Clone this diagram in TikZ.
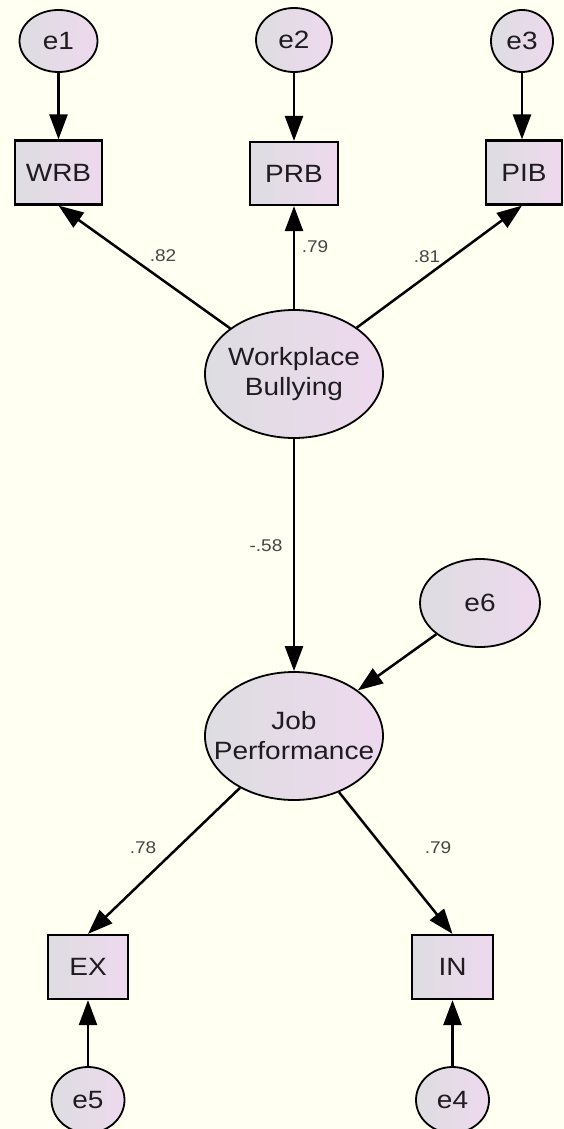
\documentclass[tikz,border=0pt]{standalone}
\usepackage{fontspec}
\setmainfont{Liberation Sans}[FakeStretch=1.12]
\usetikzlibrary{shapes.geometric,arrows.meta}
\definecolor{bgcol}{RGB}{255,255,242}
\definecolor{fillL}{RGB}{221,221,225}
\definecolor{fillR}{RGB}{238,217,238}
\definecolor{txt}{RGB}{30,28,32}
\definecolor{lbl}{RGB}{70,70,70}
\newcommand{\zw}[1]{\makebox[0pt]{#1}}
\tikzset{
  latent/.style={ellipse, draw=black, line width=1.8pt, left color=fillL, right color=fillR,
    inner sep=0pt, align=center, text=txt, font=\fontsize{25}{30}\selectfont},
  obsbox/.style={rectangle, draw=black, line width=2.2pt, left color=fillL, right color=fillR,
    inner sep=0pt, text=txt, font=\fontsize{25}{30}\selectfont},
  path/.style={line width=2.5pt, -{Triangle[length=25pt,width=18pt]}},
  coef/.style={text=lbl, font=\fontsize{17}{20}\selectfont, inner sep=0pt}
}
\begin{document}
\begin{tikzpicture}[x=1pt,y=-1pt]
\fill[bgcol] (0,0) rectangle (564,1129);
\useasboundingbox (0,0) rectangle (564,1129);
% error terms top
\node[latent, minimum width=78, minimum height=62] (e1) at (58.5,41) {e1};
\node[latent, minimum width=76, minimum height=64] (e2) at (294,40) {e2};
\node[latent, minimum width=62, minimum height=62] (e3) at (522,41) {e3};
% indicators top
\node[obsbox, minimum width=87, minimum height=64] (wrb) at (58.5,172.5) {WRB};
\node[obsbox, minimum width=88, minimum height=63] (prb) at (294,173.5) {PRB};
\node[obsbox, minimum width=76, minimum height=64] (pib) at (524,172.5) {PIB};
% latent factors
\node[latent, minimum width=178, minimum height=128] (wb) at (294,374) {\zw{Workplace}\\\zw{Bullying}};
\node[latent, minimum width=178, minimum height=128] (jp) at (294,736) {\zw{Job}\\\zw{Performance}};
\node[latent, minimum width=120, minimum height=88] (e6) at (480,603) {e6};
% indicators bottom
\node[obsbox, minimum width=80, minimum height=64] (ex) at (88,967) {EX};
\node[obsbox, minimum width=81, minimum height=64] (in) at (452.5,967) {IN};
\node[latent, minimum width=73, minimum height=66] (e5) at (88,1100) {e5};
\node[latent, minimum width=73, minimum height=66] (e4) at (452.5,1100) {e4};
% connectors
\draw[path] (e1) -- (wrb);
\draw[path] (e2) -- (prb);
\draw[path] (e3.south) -- (pib.north -| e3.south);
\draw[path] (wb) -- (wrb.south);
\draw[path] (wb) -- (prb.south);
\draw[path] (wb) -- (pib.south -| e3.south);
\draw[path] (wb) -- (jp);
\draw[path] (e6) -- (jp);
\draw[path] (jp) -- (ex.north);
\draw[path] (jp) -- (in.north);
\draw[path] (e5) -- (ex);
\draw[path] (e4) -- (in);
% coefficients
\node[coef] (c1) at (163,256) {.82};
\node[coef] (c2) at (315,247) {.79};
\node[coef] (c3) at (427,257) {.81};
\node[coef] (c4) at (266,546) {-.58};
\node[coef] (c5) at (143,848) {.78};
\node[coef] (c6) at (438,848) {.79};
\end{tikzpicture}
\end{document}
